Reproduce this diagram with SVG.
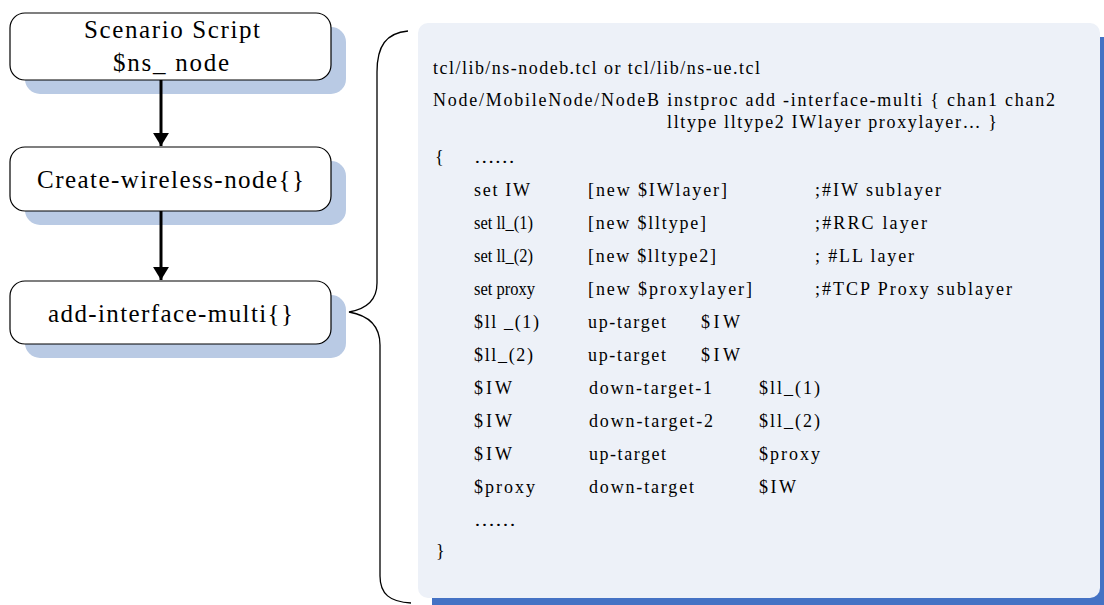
<svg xmlns="http://www.w3.org/2000/svg" width="1104" height="605" viewBox="0 0 1104 605">
<defs>
<style>
.box{fill:#ffffff;stroke:#000000;stroke-width:1.2}
.shadow{fill:#b9cae4}
.nt{font-family:"Liberation Serif","Times New Roman",serif;font-size:25px;fill:#000}
.ct{font-family:"Liberation Serif","Times New Roman",serif;font-size:18px;fill:#000}
.conn{stroke:#000;stroke-width:3;fill:none}
</style>
<marker id="ah" viewBox="0 0 10 10" refX="10" refY="5" markerWidth="4.5" markerHeight="5.5" markerUnits="strokeWidth" orient="auto" preserveAspectRatio="none">
<path d="M0,0 L10,5 L0,10 z" fill="#000"/>
</marker>
</defs>
<rect width="1104" height="605" fill="#ffffff"/>

<g id="node-scenario">
<rect class="shadow" x="25" y="27" width="321" height="67" rx="15"/>
<rect class="box" x="10" y="13" width="321" height="67" rx="15"/>
<text class="nt" x="84" y="38" textLength="176">Scenario Script</text>
<text class="nt" x="113" y="71" textLength="116">$ns_ node</text>
</g>

<g id="node-create">
<rect class="shadow" x="25" y="161" width="321" height="64" rx="15"/>
<rect class="box" x="10" y="147" width="321" height="64" rx="15"/>
<text class="nt" x="37" y="188" textLength="267">Create-wireless-node{}</text>
</g>

<g id="node-add">
<rect class="shadow" x="25" y="295" width="321" height="63" rx="15"/>
<rect class="box" x="10" y="281" width="321" height="63" rx="15"/>
<text class="nt" x="48" y="322" textLength="245">add-interface-multi{}</text>
</g>

<g id="connectors">
<line class="conn" x1="161" y1="80" x2="161" y2="146" marker-end="url(#ah)"/>
<line class="conn" x1="161" y1="211" x2="161" y2="280" marker-end="url(#ah)"/>
<path d="M408,31 C386,33 377,46 377,72 L377,283 C377,300 366,309 349,312 C366,315 380,324 380,345 L380,576 C380,594 390,602 411,603" fill="none" stroke="#000" stroke-width="1.3"/>
</g>

<g id="code-panel">
<rect x="432" y="37" width="672" height="568" fill="#4472c4"/>
<rect x="418" y="23" width="682" height="575" rx="10" fill="#edf1f8"/>
<text class="ct" x="433" y="74" textLength="327">tcl/lib/ns-nodeb.tcl or tcl/lib/ns-ue.tcl</text>
<text class="ct" x="433" y="106" textLength="622">Node/MobileNode/NodeB instproc add -interface-multi { chan1 chan2</text>
<text class="ct" x="667" y="128" textLength="330">lltype lltype2 IWlayer proxylayer… }</text>
<text class="ct" x="435" y="163">{</text>
<text class="ct" x="474" y="163" textLength="41" lengthAdjust="spacingAndGlyphs">……</text>

<text class="ct" x="474" y="196" textLength="56">set IW</text>
<text class="ct" x="588" y="196" textLength="139">[new $IWlayer]</text>
<text class="ct" x="815" y="196" textLength="126">;#IW sublayer</text>

<text class="ct" x="474" y="229" textLength="59" lengthAdjust="spacingAndGlyphs">set ll_(1)</text>
<text class="ct" x="588" y="229" textLength="118">[new $lltype]</text>
<text class="ct" x="815" y="229" textLength="112">;#RRC layer</text>

<text class="ct" x="474" y="262" textLength="59" lengthAdjust="spacingAndGlyphs">set ll_(2)</text>
<text class="ct" x="588" y="262" textLength="128">[new $lltype2]</text>
<text class="ct" x="815" y="262" textLength="99">; #LL layer</text>

<text class="ct" x="474" y="295" textLength="61" lengthAdjust="spacingAndGlyphs">set proxy</text>
<text class="ct" x="588" y="295" textLength="164">[new $proxylayer]</text>
<text class="ct" x="815" y="295" textLength="197">;#TCP Proxy sublayer</text>

<text class="ct" x="474" y="328" textLength="65">$ll _(1)</text>
<text class="ct" x="588" y="328" textLength="78">up-target</text>
<text class="ct" x="701" y="328" textLength="39">$IW</text>

<text class="ct" x="474" y="361" textLength="59">$ll_(2)</text>
<text class="ct" x="588" y="361" textLength="78">up-target</text>
<text class="ct" x="701" y="361" textLength="39">$IW</text>

<text class="ct" x="474" y="394" textLength="38">$IW</text>
<text class="ct" x="589" y="394" textLength="123">down-target-1</text>
<text class="ct" x="759" y="394" textLength="61">$ll_(1)</text>

<text class="ct" x="474" y="427" textLength="38">$IW</text>
<text class="ct" x="589" y="427" textLength="124">down-target-2</text>
<text class="ct" x="759" y="427" textLength="61">$ll_(2)</text>

<text class="ct" x="474" y="460" textLength="38">$IW</text>
<text class="ct" x="589" y="460" textLength="77">up-target</text>
<text class="ct" x="759" y="460" textLength="61">$proxy</text>

<text class="ct" x="474" y="493" textLength="61">$proxy</text>
<text class="ct" x="589" y="493" textLength="105">down-target</text>
<text class="ct" x="759" y="493" textLength="37">$IW</text>

<text class="ct" x="474" y="526" textLength="42" lengthAdjust="spacingAndGlyphs">……</text>
<text class="ct" x="436" y="557">}</text>
</g>
</svg>
